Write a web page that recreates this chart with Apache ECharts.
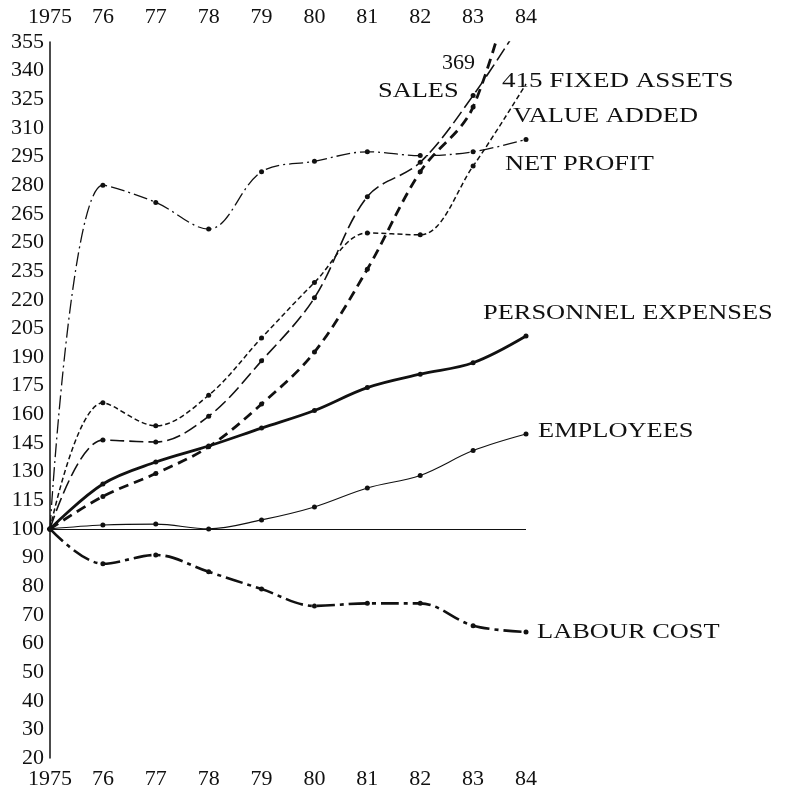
<!doctype html>
<html lang="en">
<head>
    <meta charset="utf-8">
    <title>index figures 1975-84</title>
    <script src="https://cdn.jsdelivr.net/npm/echarts@6/dist/echarts.min.js"></script>
    <style>
        *{margin:0;padding:0}
        html,body{width:100%;height:100%;background:#fff;}
        #main{width:785px;height:790px;}
    </style>
</head>
<body>
<div id="main"></div>
<script type="text/javascript">
    var years = ['1975', '76', '77', '78', '79', '80', '81', '82', '83', '84'];
    // ticks: 10 apart below 100, 15 apart above
    var yTicks = [20, 30, 40, 50, 60, 70, 80, 90, 100, 115, 130, 145, 160, 175, 190, 205,
                  220, 235, 250, 265, 280, 295, 310, 325, 340, 355];

    var sales       = [100, 146.5, 145.5, 159, 188, 221, 274, 292, 327, 369];
    var fixedAssets = [100, 117, 129, 143, 165.4, 192.6, 236, 287, 321, 415];
    var valueAdded  = [100, 166, 154, 170, 200, 229, 255, 254, 290, 333];
    var netProfit   = [100, 280, 271, 257, 287, 292.5, 297.5, 295.5, 297.5, 304];
    var personnel   = [100, 123.5, 135, 143.4, 152.8, 162, 174, 181, 187, 201];
    var employees   = [100, 102, 102.5, 100, 104.7, 111.5, 121.4, 128, 141, 149.7];
    var labourCost  = [100, 87.8, 90.9, 85, 79, 73.1, 74, 74, 66.2, 64];

    var FONT = 'Liberation Serif';

    // axis position: one step per tick
    function toAxis(v) {
        return v >= 100 ? (v - 100) / 15 : (v - 100) / 10;
    }

    function makeLine(name, values, width, dash, hideLast) {
        return {
            name: name,
            type: 'line',
            smooth: 0.35,
            symbol: 'circle',
            symbolSize: 5,
            clip: true,
            data: values.map(function (v, i) {
                var item = {value: toAxis(v)};
                if (hideLast && i === values.length - 1) item.symbol = 'none';
                return item;
            }),
            itemStyle: {color: '#111'},
            lineStyle: {color: '#111', width: width, type: dash},
            z: 3
        };
    }

    var series = [];
    series.push(makeLine('NET PROFIT', netProfit, 1.3, [14, 4, 2, 4]));
    series.push(makeLine('VALUE ADDED', valueAdded, 1.5, [5, 3], true));
    series.push(makeLine('SALES', sales, 1.6, [14, 5]));
    series.push(makeLine('FIXED ASSETS', fixedAssets, 2.8, [10, 6]));
    series.push(makeLine('PERSONNEL EXPENSES', personnel, 2.8, 'solid'));
    var emp = makeLine('EMPLOYEES', employees, 1.1, 'solid');
    emp.markLine = {
        silent: true,
        symbol: 'none',
        label: {show: false},
        lineStyle: {color: '#111', width: 1, type: 'solid'},
        data: [{yAxis: 0}]
    };
    series.push(emp);
    series.push(makeLine('LABOUR COST', labourCost, 2.6, [18, 5, 4, 5]));

    function label(text, x, y, sx) {
        return {
            type: 'text',
            x: x,
            y: y,
            scaleX: sx || 1.2,
            style: {
                text: text,
                fontFamily: FONT,
                fontSize: 22,
                fill: '#111',
                verticalAlign: 'middle'
            }
        };
    }

    var axisText = {fontFamily: FONT, fontSize: 22, color: '#111'};

    var myChart = echarts.init(document.getElementById('main'));
    var option = {
        animation: false,
        backgroundColor: '#fff',
        grid: {left: 50, right: 259, top: 42, bottom: 31},
        xAxis: [{
            type: 'category',
            data: years,
            boundaryGap: false,
            position: 'bottom',
            axisLine: {show: false},
            axisTick: {show: false},
            axisLabel: Object.assign({margin: 10, interval: 0}, axisText),
            splitLine: {show: false}
        }, {
            type: 'category',
            data: years,
            boundaryGap: false,
            position: 'top',
            axisLine: {show: false},
            axisTick: {show: false},
            axisLabel: Object.assign({margin: 14, interval: 0}, axisText),
            splitLine: {show: false}
        }],
        yAxis: {
            type: 'value',
            min: -8,
            max: 17,
            interval: 1,
            axisLine: {show: true, onZero: false, lineStyle: {color: '#111', width: 1.5}},
            axisTick: {show: false},
            splitLine: {show: false},
            axisLabel: Object.assign({
                margin: 6,
                formatter: function (t) {
                    return String(yTicks[Math.round(t) + 8]);
                }
            }, axisText)
        },
        graphic: [
            label('369', 442, 63, 1),
            label('SALES', 378, 91),
            label('415 FIXED ASSETS', 502, 81, 1.23),
            label('VALUE ADDED', 513, 116),
            label('NET PROFIT', 505, 164),
            label('PERSONNEL EXPENSES', 483, 313),
            label('EMPLOYEES', 538, 431),
            label('LABOUR COST', 537, 632)
        ],
        series: series
    };
    myChart.setOption(option);
</script>
</body>
</html>
